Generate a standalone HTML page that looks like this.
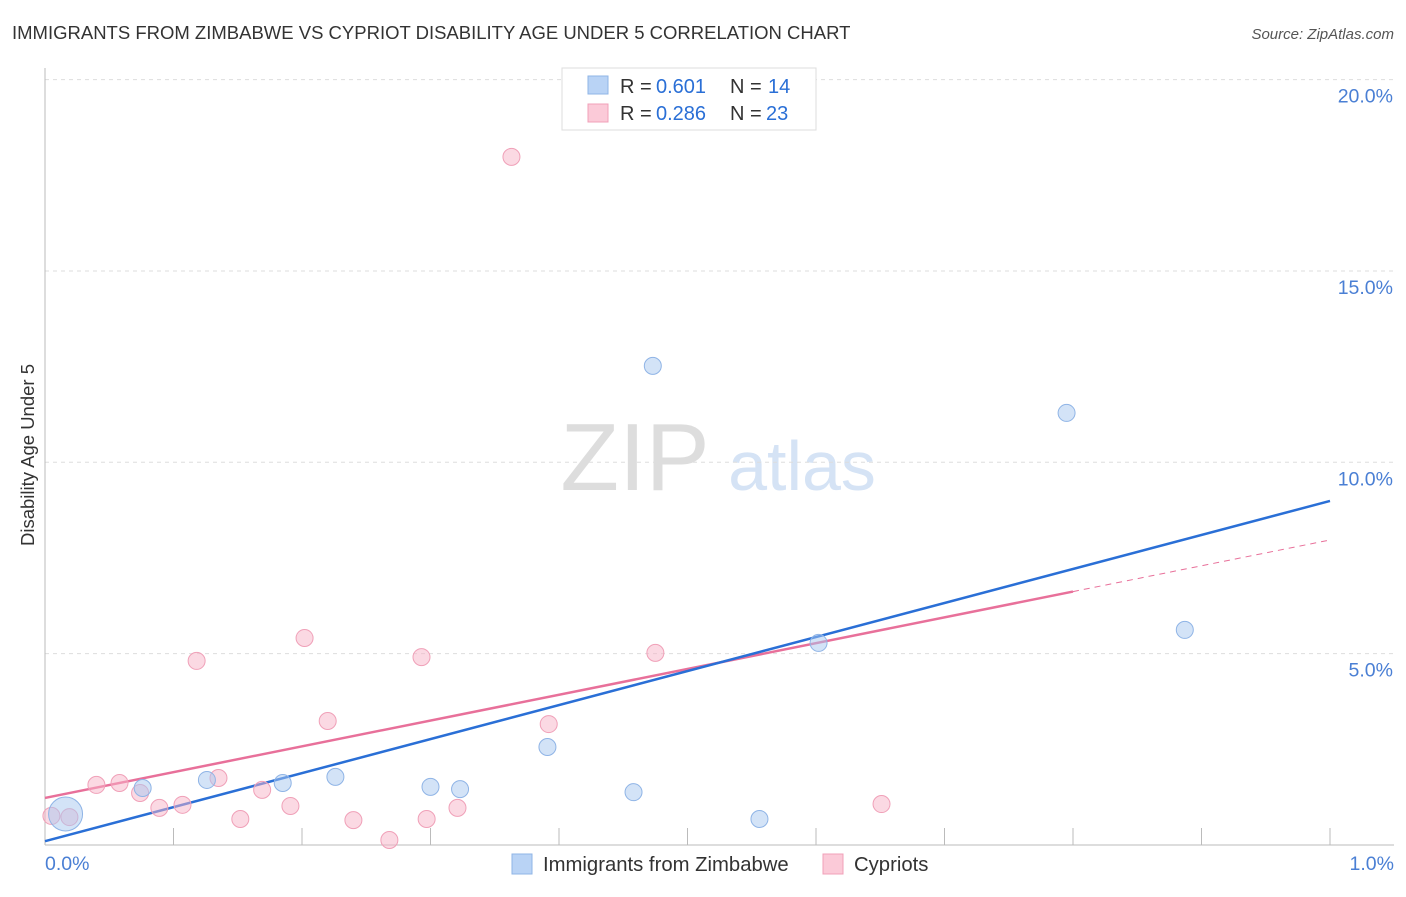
<!DOCTYPE html>
<html><head><meta charset="utf-8"><style>
body{margin:0;background:#fff;font-family:"Liberation Sans",sans-serif;}
svg text{font-family:"Liberation Sans",sans-serif;}
</style></head><body>
<svg id="chart" width="1406" height="892" xmlns="http://www.w3.org/2000/svg">
<text x="12" y="39" font-size="18.5" fill="#333">IMMIGRANTS FROM ZIMBABWE VS CYPRIOT DISABILITY AGE UNDER 5 CORRELATION CHART</text>
<text x="1394" y="39" font-size="15" fill="#555" text-anchor="end" font-style="italic">Source: ZipAtlas.com</text>
<text transform="translate(34,455) rotate(-90)" font-size="18.5" fill="#333" text-anchor="middle">Disability Age Under 5</text>
<g>
<text x="635" y="490" font-size="96" fill="#ddd" font-family="Liberation Serif" text-anchor="middle">ZIP</text>
<text x="802" y="490" font-size="70" fill="#d5e3f5" text-anchor="middle">atlas</text>
</g>
<g id="grid"></g><g id="axes"></g><g id="lines"></g><g id="points"></g>
<g>
<rect x="562" y="68" width="254" height="62" fill="#fff" stroke="#ddd"/>
<rect x="588" y="76" width="20" height="18" fill="#b9d3f5" stroke="#8fb4e6"/>
<text x="620" y="93" font-size="20" fill="#333">R =</text>
<text x="656" y="93" font-size="20" fill="#2a6fd6">0.601</text>
<text x="730" y="93" font-size="20" fill="#333">N =</text>
<text x="768" y="93" font-size="20" fill="#2a6fd6">14</text>
<rect x="588" y="104" width="20" height="18" fill="#fbcad8" stroke="#f0a0b8"/>
<text x="620" y="120" font-size="20" fill="#333">R =</text>
<text x="656" y="120" font-size="20" fill="#2a6fd6">0.286</text>
<text x="730" y="120" font-size="20" fill="#333">N =</text>
<text x="766" y="120" font-size="20" fill="#2a6fd6">23</text>
</g>
<g>
<rect x="512" y="854" width="20" height="20" fill="#b9d3f5" stroke="#8fb4e6"/>
<text x="543" y="871" font-size="20.3" fill="#333">Immigrants from Zimbabwe</text>
<rect x="823" y="854" width="20" height="20" fill="#fbcad8" stroke="#f0a0b8"/>
<text x="854" y="871" font-size="20.3" fill="#333">Cypriots</text>
</g>
</svg>
<script>
const blueX=[0.016,0.076,0.126,0.185,0.226,0.300,0.323,0.391,0.458,0.473,0.556,0.602,0.795,0.887];
const blueY=[0.81,1.49,1.70,1.62,1.78,1.52,1.46,2.56,1.38,12.52,0.68,5.28,11.29,5.62];
const pinkX=[0.005,0.019,0.040,0.058,0.074,0.089,0.107,0.118,0.135,0.152,0.169,0.191,0.202,0.220,0.240,0.268,0.293,0.297,0.321,0.363,0.392,0.475,0.651];
const pinkY=[0.76,0.73,1.57,1.62,1.36,0.97,1.05,4.81,1.75,0.68,1.44,1.02,5.41,3.24,0.65,0.13,4.91,0.68,0.97,17.98,3.16,5.02,1.07];
const yTicks=[5,10,15,20];
const yTickLabels=["5.0%","10.0%","15.0%","20.0%"];
const blueLine=[0.10,8.99];
const pinkLine=[1.23,7.97];
const pinkSolidEnd=0.8;
const NS="http://www.w3.org/2000/svg";
const X0=45,X1=1330,Y0=845,YS=38.27;
const sx=v=>X0+v*(X1-X0), sy=v=>Y0-v*YS;
function mk(p,t,a){const e=document.createElementNS(NS,t);for(const k in a)e.setAttribute(k,a[k]);document.getElementById(p).appendChild(e);return e;}
yTicks.forEach((t,i)=>{
 const g=mk('grid','line',{x1:X0,x2:1394,y1:sy(t),y2:sy(t),stroke:'#ddd','stroke-dasharray':'4,4'});
 
 
 const l=mk('grid','text',{x:1393,y:sy(t)+23,'font-size':19.5,fill:'#4a7fd4','text-anchor':'end'});
 l.textContent=yTickLabels[i];
 
 
});
const ax=mk('axes','line',{x1:X0,x2:X0,y1:68,y2:Y0,stroke:'#bbb'});


const bx=mk('axes','line',{x1:X0,x2:1394,y1:Y0,y2:Y0,stroke:'#bbb'});


for(let i=0;i<=10;i++){const t=mk('axes','line',{x1:sx(i/10),x2:sx(i/10),y1:828,y2:Y0,stroke:'#bbb'});
 
 }
[["0.0%",45,"start"],["1.0%",1394,"end"]].forEach(a=>{const t=mk('axes','text',{x:a[1],y:870,'font-size':19.5,fill:'#4a7fd4','text-anchor':a[2]});t.textContent=a[0];
 
 });
const pe=pinkLine[0]+(pinkLine[1]-pinkLine[0])*pinkSolidEnd;
const pd=mk('lines','line',{x1:sx(pinkSolidEnd),y1:sy(pe),x2:sx(1),y2:sy(pinkLine[1]),stroke:'#e8709a','stroke-dasharray':'6,5','stroke-width':1});


const ps=mk('lines','line',{x1:sx(0),y1:sy(pinkLine[0]),x2:sx(pinkSolidEnd),y2:sy(pe),stroke:'#e8709a','stroke-width':2.5});


const bl=mk('lines','line',{x1:sx(0),y1:sy(blueLine[0]),x2:sx(1),y2:sy(blueLine[1]),stroke:'#2a6fd6','stroke-width':2.5});


pinkX.forEach((x,i)=>{const c=mk('points','circle',{cx:sx(x),cy:sy(pinkY[i]),r:8.5,fill:'rgba(248,180,200,0.5)',stroke:'#f0a0b8'});
 
 });
blueX.forEach((x,i)=>{const c=mk('points','circle',{cx:sx(x),cy:sy(blueY[i]),r:i==0?17:8.5,fill:'rgba(168,200,240,0.5)',stroke:'#8fb4e6'});
 
 });
</script>
</body></html>
